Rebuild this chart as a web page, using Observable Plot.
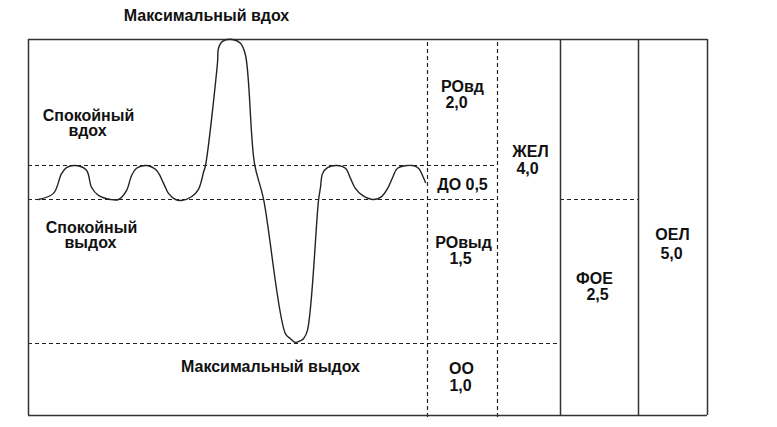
<!DOCTYPE html>
<html>
<head>
<meta charset="utf-8">
<script src="https://cdn.jsdelivr.net/npm/d3@7"></script>
<script src="https://cdn.jsdelivr.net/npm/@observablehq/plot@0.6"></script>
<style>
  html, body { margin: 0; padding: 0; background: #fff; }
  svg { display: block; }
</style>
</head>
<body>
<div id="chart"></div>
<script>
// Spirogram: time (arbitrary units) vs lung volume (litres)
const curveTime = [10, 25, 33, 38, 47, 58, 63, 70, 82, 90, 98, 103, 108, 118, 128, 135, 140, 147, 153, 163, 170, 173, 175, 177, 189, 190, 194, 204, 212, 217, 226, 235, 257, 262, 267, 272, 275, 279, 290, 292, 294, 299, 309, 317, 322, 327, 334, 344, 352, 359, 364, 369, 384, 390, 395, 397];
const curveVolume = [2.50, 2.59, 2.88, 2.97, 3.00, 2.93, 2.68, 2.56, 2.50, 2.50, 2.63, 2.85, 2.96, 3.00, 2.93, 2.74, 2.59, 2.50, 2.49, 2.54, 2.65, 2.78, 2.90, 3.00, 4.63, 4.86, 4.97, 5.00, 4.94, 4.75, 3.03, 2.51, 1.10, 1.05, 1.01, 1.03, 1.05, 1.14, 2.49, 2.68, 2.88, 2.97, 3.00, 2.96, 2.81, 2.66, 2.56, 2.50, 2.53, 2.66, 2.82, 2.96, 3.00, 2.96, 2.82, 2.75];

// Lung volumes (litres)
const volumeNames = ["РОвд", "ДО", "РОвыд", "ОО", "ЖЕЛ", "ФОЕ", "ОЕЛ"];
const volumeValues = [2.0, 0.5, 1.5, 1.0, 4.0, 2.5, 5.0];

// Column edges of the table (time units)
const columnEdges = [0, 399, 469, 532, 610, 679];

// Volume levels (litres)
const levelRV = 1.0, levelFRC = 2.5, levelTidalTop = 3.0, levelTLC = 5.0;

// the schematic is not drawn to scale: each compartment gets its own stretch
const schematic = d3.scaleLinear()
  .domain([0, levelRV, levelFRC, levelTidalTop, levelTLC])
  .range([0, 72, 216, 250, 376]);

const fmt = v => v.toFixed(1).replace(".", ",");
const curve = curveTime.map((t, i) => ({t, v: curveVolume[i]}));

// text annotations
const labels = [
  {x: 178, y: 5.286, text: "Максимальный вдох"},
  {x: 60, y: 3.714, text: "Спокойный"},
  {x: 59, y: 3.476, text: "вдох"},
  {x: 63, y: 2.156, text: "Спокойный"},
  {x: 62, y: 1.990, text: "выдох"},
  {x: 242, y: 0.611, text: "Максимальный выдох"},
  {x: 434, y: 4.159, text: volumeNames[0]},
  {x: 428, y: 3.905, text: fmt(volumeValues[0])},
  {x: 434, y: 2.647, text: volumeNames[1] + " " + fmt(volumeValues[1])},
  {x: 435, y: 2.000, text: volumeNames[2]},
  {x: 432, y: 1.833, text: fmt(volumeValues[2])},
  {x: 433, y: 0.583, text: volumeNames[3]},
  {x: 432, y: 0.347, text: fmt(volumeValues[3])},
  {x: 502, y: 3.127, text: volumeNames[4]},
  {x: 499, y: 2.882, text: fmt(volumeValues[4])},
  {x: 566, y: 1.625, text: volumeNames[5]},
  {x: 569, y: 1.448, text: fmt(volumeValues[5])},
  {x: 644, y: 2.073, text: volumeNames[6]},
  {x: 643, y: 1.885, text: fmt(volumeValues[6])}
];

const E = columnEdges;
const solidV = [E[0], E[3], E[4], E[5]];
const dashedV = [E[1], E[2]];
const dashedH = [
  {y: levelTidalTop, x1: E[0], x2: E[2]},
  {y: levelFRC, x1: E[0], x2: E[2]},
  {y: levelFRC, x1: E[3], x2: E[4]},
  {y: levelRV, x1: E[0], x2: E[3]}
];

const dash = "4,3";
const chart = Plot.plot({
  width: 777,
  height: 427,
  margin: 0,
  style: {fontFamily: "'Liberation Sans', Arial, sans-serif", background: "#fff"},
  x: {domain: [0, 679], range: [28, 707], axis: null},
  y: {transform: schematic, domain: [0, 376], range: [415, 39], axis: null},
  marks: [
    Plot.ruleY(dashedH, {y: "y", x1: "x1", x2: "x2", stroke: "#222", strokeWidth: 1.2, strokeDasharray: dash}),
    Plot.ruleX(dashedV, {x: d => d, y1: -0.028, y2: levelTLC, stroke: "#222", strokeWidth: 1.2, strokeDasharray: dash}),
    Plot.ruleX(solidV, {x: d => d, y1: 0, y2: levelTLC, stroke: "#333", strokeWidth: 1.5}),
    Plot.ruleY([0, levelTLC], {y: d => d, x1: E[0], x2: E[5], stroke: "#333", strokeWidth: 1.5}),
    Plot.line(curve, {x: "t", y: "v", curve: "catmull-rom", stroke: "#222", strokeWidth: 1.4}),
    Plot.text(labels, {x: "x", y: "y", text: "text", lineAnchor: "bottom", fontSize: 16, fontWeight: "bold", fill: "#111"})
  ]
});
document.getElementById("chart").appendChild(chart);
</script>
</body>
</html>
